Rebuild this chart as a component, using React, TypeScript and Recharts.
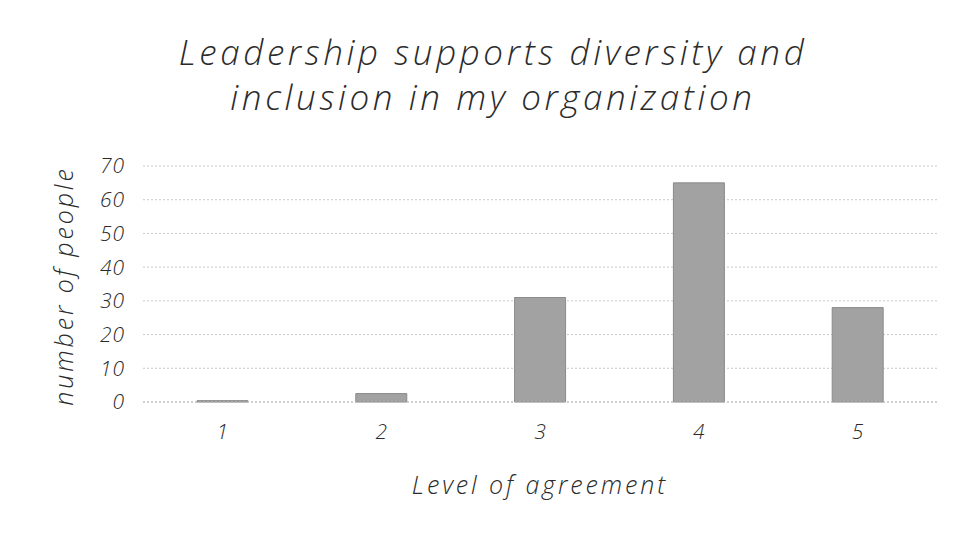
import React from "react";
import { BarChart, Bar, XAxis, YAxis, CartesianGrid, Label } from "recharts";

const categories = ["1", "2", "3", "4", "5"];
const peopleCounts = [0.4, 2.5, 31, 65, 28];
const yTicks = [0, 10, 20, 30, 40, 50, 60, 70];
const titleLines = ["Leadership supports diversity and", "inclusion in my organization"];
const xTitle = "Level of agreement";
const yTitle = "number of people";

const data = categories.map((c, i) => ({ level: c, count: peopleCounts[i] }));

const FONT = "'Open Sans', 'DejaVu Sans', sans-serif";
const TEXT = "#2b2b2b";

const YTitle = (props: any) => {
  const vb = props.viewBox || {};
  const cx = 63;
  const cy = (vb.y ?? 0) + (vb.height ?? 0) / 2 + 2;
  return (
    <text
      x={cx}
      y={cy}
      transform={`rotate(-90, ${cx}, ${cy})`}
      textAnchor="middle"
      dominantBaseline="central"
      fontFamily={FONT}
      fontStyle="italic"
      fontWeight={300}
      fontSize={25}
      letterSpacing={2.9}
      fill={TEXT}
    >
      {yTitle}
    </text>
  );
};

export default function App() {
  return (
    <div style={{ position: "absolute", left: 0, top: 0, width: 956, height: 533, background: "#fff" }}>
      <div
        style={{
          position: "absolute",
          left: 0,
          top: 29,
          width: 986,
          textAlign: "center",
          fontFamily: FONT,
          fontStyle: "italic",
          fontWeight: 300,
          fontSize: 35,
          lineHeight: "45px",
          letterSpacing: "3.6px",
          color: TEXT,
        }}
      >
        {titleLines.map((l) => (
          <div key={l}>{l}</div>
        ))}
      </div>
      <BarChart
        width={956}
        height={533}
        data={data}
        margin={{ top: 166, right: 19, bottom: 31, left: 40 }}
        barCategoryGap="34%"
      >
        <CartesianGrid vertical={false} stroke="#c8c8c8" strokeDasharray="2 2" />
        <XAxis
          dataKey="level"
          height={100}
          axisLine={{ stroke: "#bdbdbd", strokeDasharray: "2 2" }}
          tickLine={false}
          tickMargin={16}
          tick={{ fontFamily: FONT, fontStyle: "italic", fontWeight: 300, fontSize: 21, fill: TEXT }}
        >
          <Label
            value={xTitle}
            position="insideBottom"
            offset={8}
            style={{ fontFamily: FONT, fontStyle: "italic", fontWeight: 300, fontSize: 25, letterSpacing: "2.9px", fill: TEXT }}
          />
        </XAxis>
        <YAxis
          width={103}
          domain={[0, 70]}
          ticks={yTicks}
          interval={0}
          axisLine={false}
          tickLine={false}
          tickMargin={12}
          tick={{ fontFamily: FONT, fontStyle: "italic", fontWeight: 300, fontSize: 21, letterSpacing: "1px", fill: TEXT }}
        >
          <Label content={YTitle} />
        </YAxis>
        <Bar dataKey="count" fill="#a2a2a2" stroke="#8a8a8a" strokeWidth={1} isAnimationActive={false} />
      </BarChart>
    </div>
  );
}
